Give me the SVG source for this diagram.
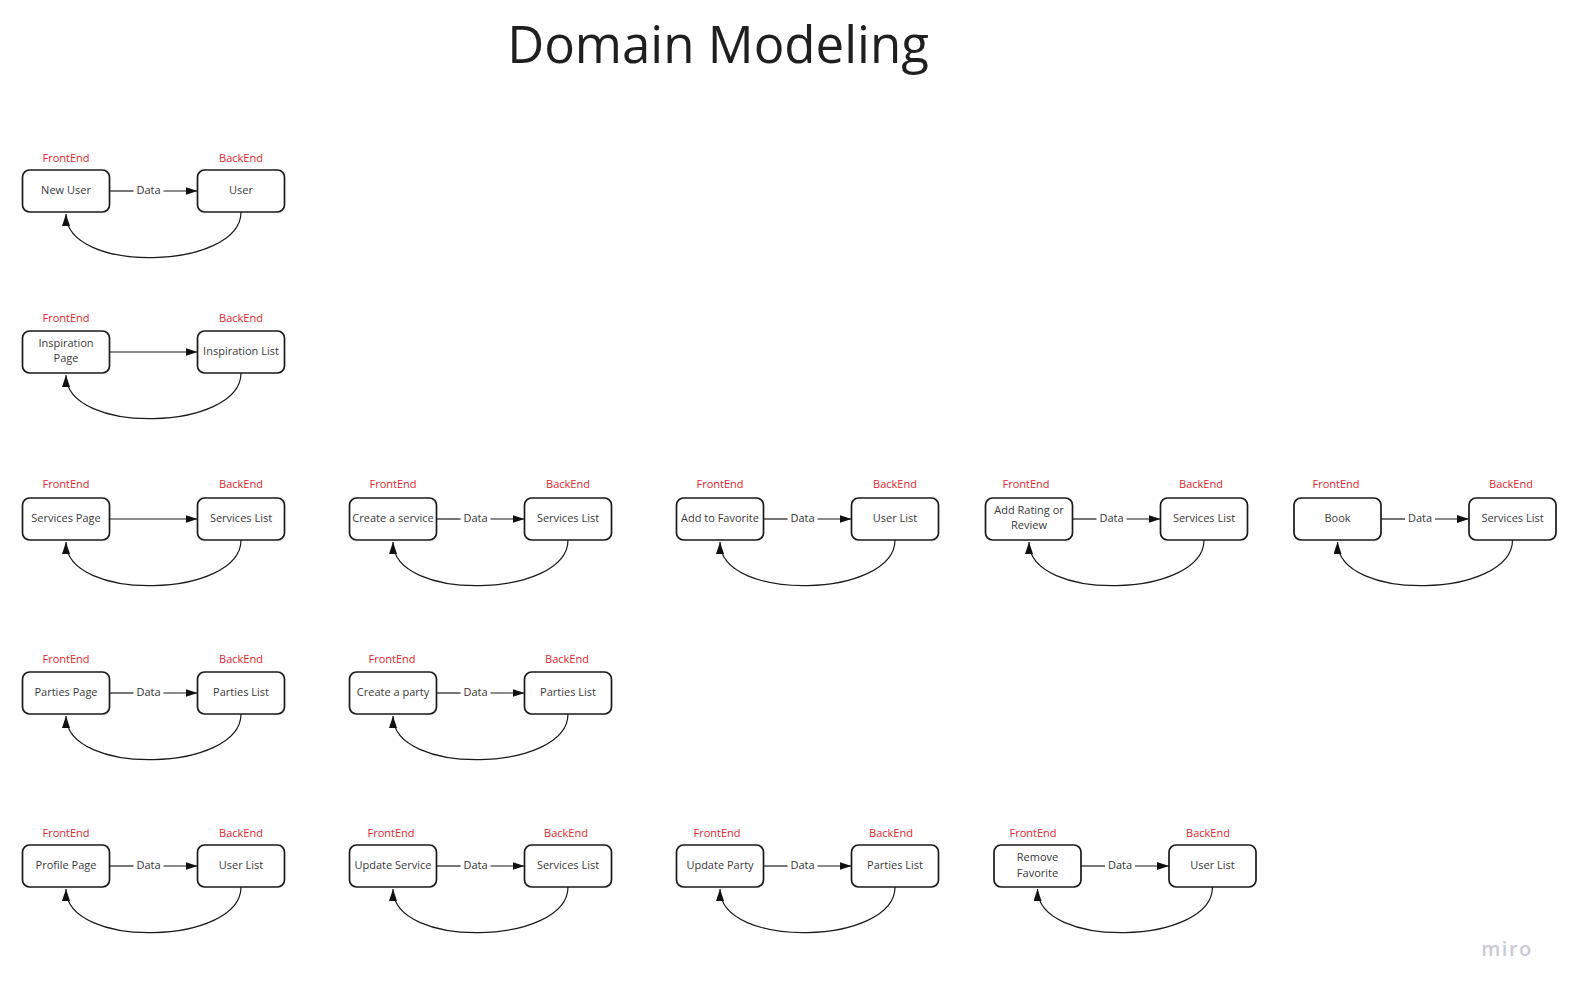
<svg xmlns="http://www.w3.org/2000/svg" width="1570" height="995" viewBox="0 0 1570 995">
<defs>
<style>
.box{fill:#fff;stroke:#1a1a1a;stroke-width:1.7}
.t{font-family:"Open Sans","Liberation Sans",sans-serif;font-size:11px;fill:#3a3a3a;text-anchor:middle}
.lbl{font-family:"Open Sans","Liberation Sans",sans-serif;font-size:11px;fill:#e3262b;text-anchor:middle}
.ln{fill:none;stroke:#1a1a1a;stroke-width:1.2}
.dl{font-family:"Open Sans","Liberation Sans",sans-serif;font-size:11px;fill:#333;text-anchor:middle}
</style>
<marker id="ah" viewBox="0 0 12 8" refX="12" refY="4" markerWidth="12" markerHeight="8" markerUnits="userSpaceOnUse" orient="auto">
<path d="M0,0 L12,4 L0,8 z" fill="#111"/>
</marker>
</defs>
<rect width="1570" height="995" fill="#fff"/>
<text x="718" y="63" font-family="'Open Sans','Liberation Sans',sans-serif" font-size="51" fill="#1f1f1f" text-anchor="middle">Domain Modeling</text>

<g id="labels">
<text class="lbl" x="66" y="162.3">FrontEnd</text><text class="lbl" x="241" y="162.3">BackEnd</text>
<text class="lbl" x="66" y="322.3">FrontEnd</text><text class="lbl" x="241" y="322.3">BackEnd</text>
<text class="lbl" x="66" y="487.5">FrontEnd</text><text class="lbl" x="241" y="487.5">BackEnd</text>
<text class="lbl" x="393" y="487.5">FrontEnd</text><text class="lbl" x="568" y="487.5">BackEnd</text>
<text class="lbl" x="720" y="487.5">FrontEnd</text><text class="lbl" x="895" y="487.5">BackEnd</text>
<text class="lbl" x="1026" y="487.5">FrontEnd</text><text class="lbl" x="1201" y="487.5">BackEnd</text>
<text class="lbl" x="1336" y="487.5">FrontEnd</text><text class="lbl" x="1511" y="487.5">BackEnd</text>
<text class="lbl" x="66" y="663.3">FrontEnd</text><text class="lbl" x="241" y="663.3">BackEnd</text>
<text class="lbl" x="392" y="663.3">FrontEnd</text><text class="lbl" x="567" y="663.3">BackEnd</text>
<text class="lbl" x="66" y="836.8">FrontEnd</text><text class="lbl" x="241" y="836.8">BackEnd</text>
<text class="lbl" x="391" y="836.8">FrontEnd</text><text class="lbl" x="566" y="836.8">BackEnd</text>
<text class="lbl" x="717" y="836.8">FrontEnd</text><text class="lbl" x="891" y="836.8">BackEnd</text>
<text class="lbl" x="1033" y="836.8">FrontEnd</text><text class="lbl" x="1208" y="836.8">BackEnd</text>
</g>

<g id="connectors">
<!-- pair 1 -->
<line class="ln" x1="109.5" y1="191" x2="133.5" y2="191"/><line class="ln" x1="163.5" y1="191" x2="197.5" y2="191" marker-end="url(#ah)"/>
<text class="dl" x="148.5" y="194">Data</text>
<path class="ln" d="M241,212 C241,270 66,275 66,214" marker-end="url(#ah)"/>
<!-- pair 2 -->
<line class="ln" x1="109.5" y1="352" x2="197.5" y2="352" marker-end="url(#ah)"/>
<path class="ln" d="M241,373 C241,431 66,436 66,375" marker-end="url(#ah)"/>
<!-- pair 3 -->
<line class="ln" x1="109.5" y1="519" x2="197.5" y2="519" marker-end="url(#ah)"/>
<path class="ln" d="M241,540 C241,598 66,603 66,542" marker-end="url(#ah)"/>
<!-- pair 4 -->
<line class="ln" x1="436.5" y1="519" x2="460.5" y2="519"/><line class="ln" x1="490.5" y1="519" x2="524.5" y2="519" marker-end="url(#ah)"/>
<text class="dl" x="475.5" y="522">Data</text>
<path class="ln" d="M568,540 C568,598 393,603 393,542" marker-end="url(#ah)"/>
<!-- pair 5 -->
<line class="ln" x1="763.5" y1="519" x2="787.5" y2="519"/><line class="ln" x1="817.5" y1="519" x2="851.5" y2="519" marker-end="url(#ah)"/>
<text class="dl" x="802.5" y="522">Data</text>
<path class="ln" d="M895,540 C895,598 720,603 720,542" marker-end="url(#ah)"/>
<!-- pair 6 -->
<line class="ln" x1="1072.5" y1="519" x2="1096.5" y2="519"/><line class="ln" x1="1126.5" y1="519" x2="1160.5" y2="519" marker-end="url(#ah)"/>
<text class="dl" x="1111.5" y="522">Data</text>
<path class="ln" d="M1204,540 C1204,598 1029,603 1029,542" marker-end="url(#ah)"/>
<!-- pair 7 -->
<line class="ln" x1="1381" y1="519" x2="1405" y2="519"/><line class="ln" x1="1435" y1="519" x2="1469" y2="519" marker-end="url(#ah)"/>
<text class="dl" x="1420" y="522">Data</text>
<path class="ln" d="M1512.5,540 C1512.5,598 1337.5,603 1337.5,542" marker-end="url(#ah)"/>
<!-- pair 8 -->
<line class="ln" x1="109.5" y1="693" x2="133.5" y2="693"/><line class="ln" x1="163.5" y1="693" x2="197.5" y2="693" marker-end="url(#ah)"/>
<text class="dl" x="148.5" y="696">Data</text>
<path class="ln" d="M241,714 C241,772 66,777 66,716" marker-end="url(#ah)"/>
<!-- pair 9 -->
<line class="ln" x1="436.5" y1="693" x2="460.5" y2="693"/><line class="ln" x1="490.5" y1="693" x2="524.5" y2="693" marker-end="url(#ah)"/>
<text class="dl" x="475.5" y="696">Data</text>
<path class="ln" d="M568,714 C568,772 393,777 393,716" marker-end="url(#ah)"/>
<!-- pair 10 -->
<line class="ln" x1="109.5" y1="866" x2="133.5" y2="866"/><line class="ln" x1="163.5" y1="866" x2="197.5" y2="866" marker-end="url(#ah)"/>
<text class="dl" x="148.5" y="869">Data</text>
<path class="ln" d="M241,887 C241,945 66,950 66,889" marker-end="url(#ah)"/>
<!-- pair 11 -->
<line class="ln" x1="436.5" y1="866" x2="460.5" y2="866"/><line class="ln" x1="490.5" y1="866" x2="524.5" y2="866" marker-end="url(#ah)"/>
<text class="dl" x="475.5" y="869">Data</text>
<path class="ln" d="M568,887 C568,945 393,950 393,889" marker-end="url(#ah)"/>
<!-- pair 12 -->
<line class="ln" x1="763.5" y1="866" x2="787.5" y2="866"/><line class="ln" x1="817.5" y1="866" x2="851.5" y2="866" marker-end="url(#ah)"/>
<text class="dl" x="802.5" y="869">Data</text>
<path class="ln" d="M895,887 C895,945 720,950 720,889" marker-end="url(#ah)"/>
<!-- pair 13 -->
<line class="ln" x1="1081" y1="866" x2="1105" y2="866"/><line class="ln" x1="1135" y1="866" x2="1169" y2="866" marker-end="url(#ah)"/>
<text class="dl" x="1120" y="869">Data</text>
<path class="ln" d="M1212.5,887 C1212.5,945 1037.5,950 1037.5,889" marker-end="url(#ah)"/>
</g>

<g id="n-new-user"><rect class="box" x="22.5" y="170" width="87" height="42" rx="7"/><text class="t" x="66" y="193.5">New User</text></g>
<g id="n-user"><rect class="box" x="197.5" y="170" width="87" height="42" rx="7"/><text class="t" x="241" y="193.5">User</text></g>

<g id="n-inspiration-page"><rect class="box" x="22.5" y="331" width="87" height="42" rx="7"/><text class="t" x="66" y="346.5">Inspiration</text><text class="t" x="66" y="362">Page</text></g>
<g id="n-inspiration-list"><rect class="box" x="197.5" y="331" width="87" height="42" rx="7"/><text class="t" x="241" y="354.5">Inspiration List</text></g>

<g id="n-services-page"><rect class="box" x="22.5" y="498" width="87" height="42" rx="7"/><text class="t" x="66" y="521.5">Services Page</text></g>
<g id="n-services-list-1"><rect class="box" x="197.5" y="498" width="87" height="42" rx="7"/><text class="t" x="241" y="521.5">Services List</text></g>

<g id="n-create-service"><rect class="box" x="349.5" y="498" width="87" height="42" rx="7"/><text class="t" x="393" y="521.5">Create a service</text></g>
<g id="n-services-list-2"><rect class="box" x="524.5" y="498" width="87" height="42" rx="7"/><text class="t" x="568" y="521.5">Services List</text></g>

<g id="n-add-favorite"><rect class="box" x="676.5" y="498" width="87" height="42" rx="7"/><text class="t" x="720" y="521.5">Add to Favorite</text></g>
<g id="n-user-list-1"><rect class="box" x="851.5" y="498" width="87" height="42" rx="7"/><text class="t" x="895" y="521.5">User List</text></g>

<g id="n-add-rating"><rect class="box" x="985.5" y="498" width="87" height="42" rx="7"/><text class="t" x="1029" y="513.5">Add Rating or</text><text class="t" x="1029" y="529">Review</text></g>
<g id="n-services-list-3"><rect class="box" x="1160.5" y="498" width="87" height="42" rx="7"/><text class="t" x="1204" y="521.5">Services List</text></g>

<g id="n-book"><rect class="box" x="1294" y="498" width="87" height="42" rx="7"/><text class="t" x="1337.5" y="521.5">Book</text></g>
<g id="n-services-list-4"><rect class="box" x="1469" y="498" width="87" height="42" rx="7"/><text class="t" x="1512.5" y="521.5">Services List</text></g>

<g id="n-parties-page"><rect class="box" x="22.5" y="672" width="87" height="42" rx="7"/><text class="t" x="66" y="695.5">Parties Page</text></g>
<g id="n-parties-list-1"><rect class="box" x="197.5" y="672" width="87" height="42" rx="7"/><text class="t" x="241" y="695.5">Parties List</text></g>

<g id="n-create-party"><rect class="box" x="349.5" y="672" width="87" height="42" rx="7"/><text class="t" x="393" y="695.5">Create a party</text></g>
<g id="n-parties-list-2"><rect class="box" x="524.5" y="672" width="87" height="42" rx="7"/><text class="t" x="568" y="695.5">Parties List</text></g>

<g id="n-profile-page"><rect class="box" x="22.5" y="845" width="87" height="42" rx="7"/><text class="t" x="66" y="868.5">Profile Page</text></g>
<g id="n-user-list-2"><rect class="box" x="197.5" y="845" width="87" height="42" rx="7"/><text class="t" x="241" y="868.5">User List</text></g>

<g id="n-update-service"><rect class="box" x="349.5" y="845" width="87" height="42" rx="7"/><text class="t" x="393" y="868.5">Update Service</text></g>
<g id="n-services-list-5"><rect class="box" x="524.5" y="845" width="87" height="42" rx="7"/><text class="t" x="568" y="868.5">Services List</text></g>

<g id="n-update-party"><rect class="box" x="676.5" y="845" width="87" height="42" rx="7"/><text class="t" x="720" y="868.5">Update Party</text></g>
<g id="n-parties-list-3"><rect class="box" x="851.5" y="845" width="87" height="42" rx="7"/><text class="t" x="895" y="868.5">Parties List</text></g>

<g id="n-remove-favorite"><rect class="box" x="994" y="845" width="87" height="42" rx="7"/><text class="t" x="1037.5" y="861">Remove</text><text class="t" x="1037.5" y="876.5">Favorite</text></g>
<g id="n-user-list-3"><rect class="box" x="1169" y="845" width="87" height="42" rx="7"/><text class="t" x="1212.5" y="868.5">User List</text></g>

<text x="1507" y="956" font-family="'Open Sans','Liberation Sans',sans-serif" font-size="20" font-weight="600" letter-spacing="1.5" fill="#c9cad3" text-anchor="middle">miro</text>
</svg>
